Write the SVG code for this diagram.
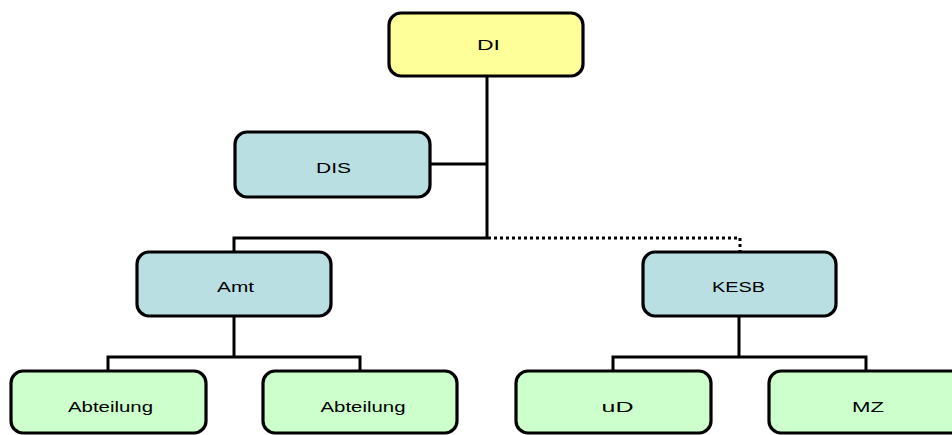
<svg xmlns="http://www.w3.org/2000/svg" width="952" height="435" viewBox="0 0 952 435">
<style>
.box{stroke:#000;stroke-width:3.2}
.y{fill:#ffff99}
.b{fill:#b9dfe2}
.g{fill:#ccffcc}
.t{font-family:"Liberation Sans",Arial,sans-serif;font-size:15px;fill:#000;text-anchor:middle}
.c{fill:none;stroke:#000;stroke-width:3}
.d{fill:none;stroke:#000;stroke-width:3;stroke-dasharray:3 3}
</style>
<rect width="952" height="435" fill="#fff"/>
<g id="connectors">
<polyline class="c" points="487,77 487,238"/>
<polyline class="c" points="431,164 487,164"/>
<polyline class="c" points="488,238 234,238 234,252"/>
<polyline class="d" points="488,238 740,238 740,252"/>
<polyline class="c" points="234,316 234,357"/>
<polyline class="c" points="108,370 108,357 360,357 360,370"/>
<polyline class="c" points="739,316 739,357"/>
<polyline class="c" points="613,370 613,357 866,357 866,370"/>
</g>
<g id="DI"><rect class="box y" x="389" y="13" width="194" height="63" rx="12"/><text class="t" x="488.5" y="50" textLength="23" lengthAdjust="spacingAndGlyphs">DI</text></g>
<g id="DIS"><rect class="box b" x="235" y="132" width="195" height="65" rx="12"/><text class="t" x="333.5" y="173" textLength="35" lengthAdjust="spacingAndGlyphs">DIS</text></g>
<g id="Amt"><rect class="box b" x="137" y="252" width="194" height="64" rx="12"/><text class="t" x="235.5" y="292" textLength="37" lengthAdjust="spacingAndGlyphs">Amt</text></g>
<g id="KESB"><rect class="box b" x="643" y="252" width="193" height="64" rx="12"/><text class="t" x="738.5" y="292" textLength="53" lengthAdjust="spacingAndGlyphs">KESB</text></g>
<g id="Abteilung1"><rect class="box g" x="11" y="371" width="195" height="62" rx="12"/><text class="t" x="110.5" y="412" textLength="85" lengthAdjust="spacingAndGlyphs">Abteilung</text></g>
<g id="Abteilung2"><rect class="box g" x="263" y="371" width="194" height="62" rx="12"/><text class="t" x="363" y="412" textLength="85" lengthAdjust="spacingAndGlyphs">Abteilung</text></g>
<g id="uD"><rect class="box g" x="516" y="371" width="195" height="62" rx="12"/><text class="t" x="617.5" y="412" textLength="32" lengthAdjust="spacingAndGlyphs">uD</text></g>
<g id="MZ"><rect class="box g" x="769" y="371" width="195" height="62" rx="12"/><text class="t" x="868" y="412" textLength="32" lengthAdjust="spacingAndGlyphs">MZ</text></g>
</svg>
